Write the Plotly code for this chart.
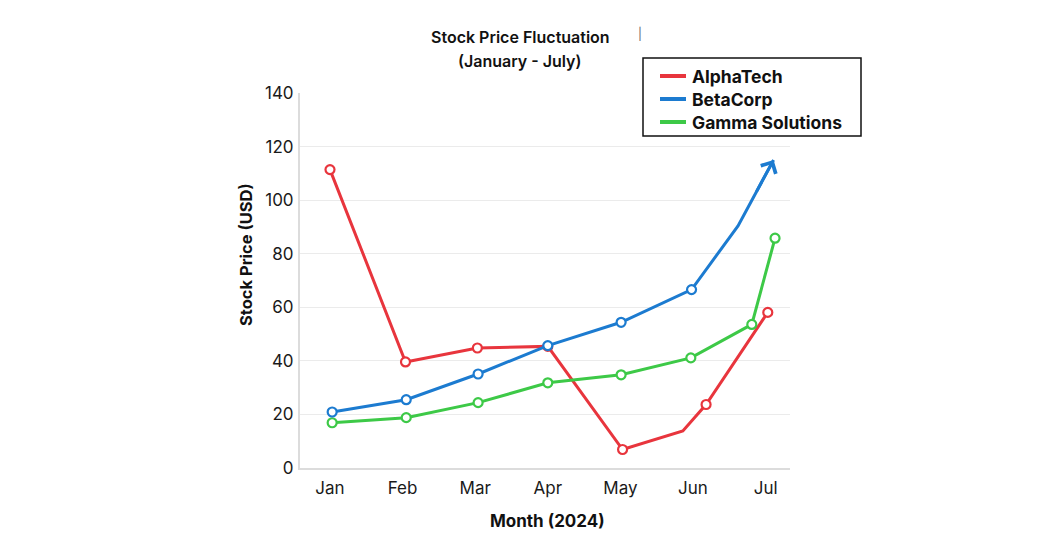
import plotly.graph_objects as go

# ---------------- data ----------------
months = ["Jan", "Feb", "Mar", "Apr", "May", "Jun", "Jul"]
month_pos = [0, 1, 2, 3, 4, 5, 6]

alpha_x = [0.0, 1.04, 2.03, 3.0, 4.03, 4.86, 5.18, 6.03]
alpha_y = [111.4, 39.6, 44.8, 45.4, 6.9, 13.8, 23.7, 58.1]
alpha_mark = [1, 1, 1, 1, 1, 0, 1, 1]

# last point is the arrow tip
beta_x = [0.03, 1.05, 2.04, 3.0, 4.01, 4.98, 5.62, 6.11]
beta_y = [20.9, 25.5, 35.1, 45.7, 54.4, 66.6, 90.4, 115.0]
beta_mark = [1, 1, 1, 1, 1, 1, 0, 0]

gamma_x = [0.03, 1.05, 2.04, 3.0, 4.01, 4.97, 5.81, 6.13]
gamma_y = [16.9, 18.8, 24.4, 31.8, 34.8, 41.1, 53.6, 85.8]
gamma_mark = [1, 1, 1, 1, 1, 1, 1, 1]

series_names = ["AlphaTech", "BetaCorp", "Gamma Solutions"]
colors = ["#E8353D", "#1C7BD0", "#3DC947"]
y_ticks = [0, 20, 40, 60, 80, 100, 120, 140]

# ---------------- layout geometry ----------------
W, H = 1050, 540
L, R, T, B = 300, 260, 93, 72
PW, PH = W - L - R, H - T - B
X_RANGE = [-0.413, 6.336]
Y_RANGE = [0, 140]


def px(x):
    return (x - L) / PW


def py(y):
    return (H - B - y) / PH


fig = go.Figure()

for xs, ys, mk, name, col in [
    (alpha_x, alpha_y, alpha_mark, series_names[0], colors[0]),
    (gamma_x, gamma_y, gamma_mark, series_names[2], colors[2]),
    (beta_x, beta_y, beta_mark, series_names[1], colors[1]),
]:
    fig.add_trace(go.Scatter(
        x=xs, y=ys, mode="lines+markers", name=name, showlegend=False,
        line=dict(color=col, width=3),
        marker=dict(symbol="circle", size=[9 * m for m in mk], color="white",
                    opacity=1, line=dict(color=col, width=2.2)),
        hoverinfo="x+y",
    ))

# BetaCorp arrow head: short arrow along the last segment, ending at the tip
mid_x = (beta_x[-2] + beta_x[-1]) / 2
mid_y = (beta_y[-2] + beta_y[-1]) / 2
fig.add_annotation(
    x=beta_x[-1], y=beta_y[-1], ax=mid_x, ay=mid_y,
    xref="x", yref="y", axref="x", ayref="y", text="", showarrow=True,
    arrowhead=4, arrowsize=1.1, arrowwidth=3, arrowcolor=colors[1], standoff=0,
)

font_family = "Inter, 'Noto Sans', sans-serif"

fig.update_layout(
    width=W, height=H,
    margin=dict(l=L, r=R, t=T, b=B),
    paper_bgcolor="white", plot_bgcolor="white",
    font=dict(family=font_family, color="#1a1a1a"),
    showlegend=False,
    xaxis=dict(
        range=X_RANGE, tickvals=month_pos, ticktext=months,
        showgrid=False, zeroline=False, showline=True, linecolor="#dcdcdc",
        linewidth=2, ticks="", tickfont=dict(size=17, color="#1a1a1a"),
        ticklabelstandoff=4,
    ),
    yaxis=dict(
        range=Y_RANGE, tickvals=y_ticks, showgrid=True, gridcolor="#ebebeb",
        gridwidth=1, zeroline=False, showline=True, linecolor="#dcdcdc",
        linewidth=2, ticks="", tickfont=dict(size=17, color="#1a1a1a"),
        ticklabelstandoff=1,
    ),
)

# titles
fig.add_annotation(text="Stock Price Fluctuation", x=px(520), y=py(37),
                   xref="paper", yref="paper", showarrow=False,
                   font=dict(size=16, weight=600, color="#111"),
                   xanchor="center", yanchor="middle")
fig.add_annotation(text="(January - July)", x=px(520), y=py(61),
                   xref="paper", yref="paper", showarrow=False,
                   font=dict(size=16, weight=600, color="#111"),
                   xanchor="center", yanchor="middle")

fig.add_annotation(text="Stock Price (USD)", x=px(246), y=py(255),
                   xref="paper", yref="paper", showarrow=False, textangle=-90,
                   font=dict(size=16.5, weight=700, color="#111"),
                   xanchor="center", yanchor="middle")
fig.add_annotation(text="Month (2024)", x=px(547), y=py(521),
                   xref="paper", yref="paper", showarrow=False,
                   font=dict(size=17, weight=700, color="#111"),
                   xanchor="center", yanchor="middle")

# small artifact mark near title
fig.add_annotation(text="|", x=px(640), y=py(33), xref="paper", yref="paper",
                   showarrow=False, font=dict(size=12, color="#666"),
                   xanchor="center", yanchor="middle")

# manual legend
fig.add_shape(type="rect", xref="paper", yref="paper",
              x0=px(643), x1=px(861), y0=py(58), y1=py(136),
              line=dict(color="#111", width=1.5), fillcolor="white", layer="above")
for i, (name, col) in enumerate(zip(series_names, colors)):
    yy = 76 + 23 * i
    fig.add_shape(type="line", xref="paper", yref="paper",
                  x0=px(660), x1=px(686), y0=py(yy), y1=py(yy),
                  line=dict(color=col, width=4), layer="above")
    fig.add_annotation(text=name, x=px(690), y=py(yy), xref="paper", yref="paper",
                       showarrow=False, xanchor="left", yanchor="middle",
                       font=dict(size=17.5, weight=700, color="#111"))

fig.write_html("out.html")
